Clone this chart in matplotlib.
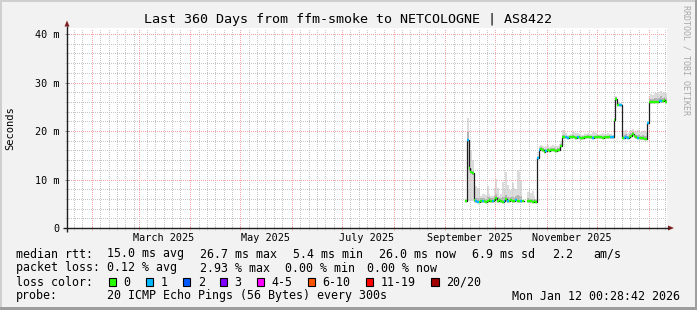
import numpy as np
import pandas as pd
import matplotlib
matplotlib.use('Agg')
import matplotlib.pyplot as plt
import matplotlib.dates as mdates
import matplotlib.transforms as mtransforms
from matplotlib.patches import Rectangle, Polygon

nan = np.nan

# graph window (last 360 days)
start = pd.Timestamp('2025-01-17 00:28:42')
end = pd.Timestamp('2026-01-12 00:28:42')
first_day = pd.Timestamp('2025-09-13 00:28:42')

# one value per day, Sep 13 2025 .. Jan 11 2026, milliseconds
median_ms = [5.5, 18.1, 12.3, 11.6, 11.3,
             5.7, 5.5, 5.4, 5.4, 5.6, 5.5, 5.6, 5.4, 5.5, 5.7,
             5.6, 5.5, 5.8, 6.1, 5.6, 5.7, 5.5, 5.4, 5.6, 5.9,
             5.6, 5.5, 5.7, 5.6, 5.5, 5.8, 5.6, 5.5, 5.6, 5.5,
             nan, nan,
             5.6, 5.5, 5.5, 5.4, 5.5, 5.4,
             14.4,
             16.1, 16.2, 16.0, 15.7, 15.9, 16.0, 15.8, 16.0, 16.1, 16.0, 15.9, 16.0, 16.1, 17.0,
             18.7, 18.8, 18.7, 18.6, 18.7, 18.7, 18.8, 18.7, 18.6, 18.7,
             18.7, 18.5, 18.6, 18.7, 18.7, 18.8, 18.7, 18.7, 18.6, 18.7,
             18.7, 18.8, 18.7, 18.7, 18.6, 18.7, 18.7, 18.7, 18.8, 18.7, 18.7,
             22.3, 26.7, 25.4, 25.4, 25.3,
             18.6, 18.6, 18.7, 18.6, 18.8, 19.0, 19.3, 18.9, 18.7, 18.6, 18.6, 18.5, 18.5, 18.4, 18.4,
             21.6, 25.9, 25.9, 26.0, 25.9, 26.0, 26.0, 26.1, 26.2, 26.1, 26.3, 26.0]

# highest ping of the 20 (light smoke)
smoke_hi = [5.9, 22.6, 15.8, 15.8, 14.0,
            8.5, 8.6, 8.3, 8.3, 6.7, 7.0, 7.0, 6.9, 8.6, 7.0,
            6.5, 6.7, 8.2, 10.2, 8.3, 6.7, 7.0, 9.5, 8.0, 11.6,
            8.9, 8.0, 7.9, 9.2, 8.2, 8.0, 11.9, 11.6, 9.9, 7.5,
            nan, nan,
            7.5, 7.7, 7.2, 7.7, 6.5, 5.9,
            14.8,
            16.9, 17.2, 17.0, 16.8, 16.9, 17.1, 16.8, 16.9, 17.2, 17.0, 16.9, 17.0, 17.3, 18.0,
            20.2, 20.2, 19.5, 19.2, 19.2, 19.4, 19.7, 19.7, 19.5, 19.5,
            19.4, 19.2, 19.2, 19.5, 19.3, 19.5, 19.2, 19.4, 19.7, 19.8,
            19.5, 19.2, 19.4, 19.4, 19.5, 19.3, 19.4, 19.5, 19.4, 19.3, 19.2,
            22.7, 27.2, 26.0, 25.9, 25.8,
            19.5, 19.9, 20.2, 19.6, 20.0, 20.3, 20.5, 20.1, 19.9, 20.2, 20.0, 19.8, 20.1, 20.2, 19.8,
            22.0, 27.3, 27.6, 27.5, 27.8, 27.9, 28.0, 27.7, 28.3, 27.9, 28.1, 27.8]

# upper quartile (darker smoke top)
smoke_q75 = [5.7, 19.8, 12.8, 12.2, 11.8,
             6.4, 6.2, 6.1, 6.0, 6.1, 6.1, 6.2, 6.0, 6.3, 6.3,
             6.1, 6.1, 6.6, 7.0, 6.3, 6.2, 6.1, 6.3, 6.3, 6.9,
             6.4, 6.2, 6.3, 6.4, 6.2, 6.5, 6.8, 6.6, 6.5, 6.1,
             nan, nan,
             6.1, 6.0, 6.0, 5.9, 5.9, 5.7,
             14.6,
             16.5, 16.6, 16.4, 16.2, 16.3, 16.5, 16.2, 16.4, 16.5, 16.4, 16.3, 16.4, 16.5, 17.4,
             19.2, 19.3, 19.0, 18.9, 19.0, 19.0, 19.1, 19.0, 18.9, 19.0,
             19.0, 18.8, 18.9, 19.0, 19.0, 19.1, 19.0, 19.0, 18.9, 19.0,
             19.0, 19.1, 19.0, 19.0, 18.9, 19.0, 19.0, 19.0, 19.1, 19.0, 19.0,
             22.5, 27.0, 25.7, 25.6, 25.5,
             19.0, 19.1, 19.3, 19.0, 19.3, 19.6, 19.8, 19.4, 19.2, 19.2, 19.1, 19.0, 19.1, 19.0, 18.9,
             21.8, 26.6, 26.7, 26.7, 26.8, 26.9, 26.9, 26.9, 27.2, 26.9, 27.1, 26.8]

# lower quartile (darker smoke bottom)
smoke_q25 = [5.4, 17.8, 11.9, 11.3, 11.0,
             5.4, 5.3, 5.2, 5.2, 5.4, 5.3, 5.4, 5.2, 5.3, 5.5,
             5.4, 5.3, 5.5, 5.8, 5.4, 5.5, 5.3, 5.2, 5.4, 5.6,
             5.4, 5.3, 5.5, 5.4, 5.3, 5.5, 5.4, 5.3, 5.4, 5.3,
             nan, nan,
             5.4, 5.3, 5.3, 5.2, 5.3, 5.2,
             14.2,
             15.9, 16.0, 15.8, 15.5, 15.7, 15.8, 15.6, 15.8, 15.9, 15.8, 15.7, 15.8, 15.9, 16.8,
             18.5, 18.6, 18.5, 18.4, 18.5, 18.5, 18.6, 18.5, 18.4, 18.5,
             18.5, 18.3, 18.4, 18.5, 18.5, 18.6, 18.5, 18.5, 18.4, 18.5,
             18.5, 18.6, 18.5, 18.5, 18.4, 18.5, 18.5, 18.5, 18.6, 18.5, 18.5,
             22.1, 26.4, 25.2, 25.2, 25.1,
             18.4, 18.4, 18.5, 18.4, 18.6, 18.8, 19.1, 18.7, 18.5, 18.4, 18.4, 18.3, 18.3, 18.2, 18.2,
             21.4, 25.7, 25.7, 25.8, 25.7, 25.8, 25.8, 25.9, 26.0, 25.9, 26.1, 25.8]

# lowest ping
smoke_lo = [5.3, 5.6, 5.6, 5.6, 5.6,
            5.2, 5.1, 5.1, 5.1, 5.2, 5.2, 5.2, 5.1, 5.2, 5.3,
            5.2, 5.2, 5.3, 5.5, 5.2, 5.3, 5.2, 5.1, 5.2, 5.4,
            5.2, 5.2, 5.3, 5.2, 5.2, 5.3, 5.2, 5.2, 5.2, 5.2,
            nan, nan,
            5.2, 5.2, 5.2, 5.1, 5.2, 5.1,
            14.0,
            15.8, 15.9, 15.7, 15.4, 15.6, 15.7, 15.5, 15.7, 15.8, 15.7, 15.6, 15.7, 15.8, 16.6,
            18.4, 18.5, 18.4, 18.3, 18.4, 18.4, 18.5, 18.4, 18.3, 18.4,
            18.4, 18.2, 18.3, 18.4, 18.4, 18.5, 18.4, 18.4, 18.3, 18.4,
            18.4, 18.5, 18.4, 18.4, 18.3, 18.4, 18.4, 18.4, 18.5, 18.4, 18.4,
            22.0, 26.2, 25.1, 25.1, 25.0,
            18.3, 18.3, 18.4, 18.3, 18.5, 18.6, 18.9, 18.6, 18.4, 18.3, 18.3, 18.2, 18.2, 18.1, 18.1,
            21.3, 25.6, 25.6, 25.7, 25.6, 25.7, 25.7, 25.8, 25.9, 25.8, 26.0, 25.7]

# lost pings out of 20
loss = [0, 1, 0, 0, 0,
        0, 1, 1, 0, 0, 1, 0, 0, 0, 0,
        0, 1, 0, 0, 0, 0, 0, 0, 1, 0,
        1, 0, 0, 0, 0, 1, 0, 0, 1, 0,
        0, 0,
        0, 0, 0, 0, 0, 0,
        1,
        1, 0, 0, 0, 1, 0, 0, 0, 0, 0, 0, 0, 0, 0,
        0, 0, 1, 1, 0, 0, 0, 0, 0, 1,
        0, 0, 0, 0, 0, 0, 0, 0, 1, 0,
        0, 0, 0, 0, 0, 0, 0, 0, 0, 1, 1,
        0, 0, 0, 1, 1,
        0, 1, 1, 1, 0, 0, 0, 0, 0, 1, 0, 0, 0, 0, 0,
        1, 0, 0, 0, 0, 0, 0, 1, 1, 0, 0, 0]

loss_labels = ['0', '1', '2', '3', '4-5', '6-10', '11-19', '20/20']
loss_colors = ['#26ff00', '#00b8ff', '#0059ff', '#7e00ff', '#ff00ff', '#ff5500', '#ff0000', '#a10000']
loss_upper = [0, 1, 2, 3, 5, 10, 19, 20]

month_labels = ['March 2025', 'May 2025', 'July 2025', 'September 2025', 'November 2025']
month_label_days = ['2025-03-16', '2025-05-16', '2025-07-16', '2025-09-16', '2025-11-16']

rtt_stats = ['15.0 ms avg', '26.7 ms max', '5.4 ms min', '26.0 ms now', '6.9 ms sd', '2.2', 'am/s']
loss_stats = ['0.12 % avg', '2.93 % max', '0.00 % min', '0.00 % now']

W, H = 697, 310
mono = 'DejaVu Sans Mono'
plt.rcParams['font.family'] = mono

fig = plt.figure(figsize=(W / 100, H / 100), dpi=100)
fig.patch.set_facecolor('#f2f2f2')

# plot area: x 67..667, y 28..228 (pixels)
ax = fig.add_axes([67 / W, 82 / H, 600 / W, 200 / H])
ax.set_facecolor('white')
for s in ax.spines.values():
    s.set_visible(False)

n = len(median_ms)
edges = pd.date_range(first_day, periods=n + 1, freq='D')
xs = mdates.date2num(edges.to_pydatetime())


def ext(v):
    a = np.array(v, dtype=float)
    return np.append(a, a[-1])


med = np.array(median_ms, dtype=float)
ax.fill_between(xs, ext(smoke_lo), ext(smoke_hi), step='post', color='#dcdcdc', lw=0, zorder=1)
ax.fill_between(xs, ext(smoke_q25), ext(smoke_q75), step='post', color='#b4b4b4', lw=0, zorder=1.1)
ax.step(xs, ext(median_ms), where='post', color='#1f1f1f', lw=0.9, zorder=3)

cols = []
for l in loss:
    idx = next(i for i, u in enumerate(loss_upper) if l <= u)
    cols.append(loss_colors[idx])
ax.hlines(med, xs[:-1], xs[1:], colors=cols, lw=1.7, zorder=4)

ax.set_xlim(mdates.date2num(start.to_pydatetime()), mdates.date2num(end.to_pydatetime()))
ax.set_ylim(0, 41.24)

# grid: month lines + every 5 days, 10 m + 2 m
majors = pd.date_range('2025-02-01', '2026-01-01', freq='MS')
minors = []
for m in pd.date_range('2025-01-01', '2026-01-01', freq='MS'):
    for d in (5, 10, 15, 20, 25):
        t = m + pd.Timedelta(days=d)
        if start <= t <= end:
            minors.append(t)
ax.set_xticks(mdates.date2num(majors.to_pydatetime()))
ax.set_xticks(mdates.date2num(pd.DatetimeIndex(minors).to_pydatetime()), minor=True)
ax.set_yticks([0, 10, 20, 30, 40])
ax.set_yticks(np.arange(2, 41, 2), minor=True)
ax.set_yticklabels(['0', '10 m', '20 m', '30 m', '40 m'])

mgrid = '#f2a6a6'
grid = '#c6c6c6'
ax.grid(which='major', color=mgrid, ls=(0, (1, 1.8)), lw=0.72, antialiased=False)
ax.grid(which='minor', color=grid, ls=(0, (1, 1.8)), lw=0.72, antialiased=False)
ax.tick_params(axis='x', which='both', labelbottom=False)
ax.tick_params(axis='x', which='major', direction='inout', length=3.5, width=0.72, color=mgrid)
ax.tick_params(axis='x', which='minor', direction='inout', length=2.5, width=0.72, color='#d4d4d4')
ax.tick_params(axis='y', which='major', direction='inout', length=3.5, width=0.72, color='#888888',
               labelsize=7.3, pad=4)
ax.tick_params(axis='y', which='minor', direction='inout', length=2.5, width=0.72, color='#d4d4d4')

trans = mtransforms.blended_transform_factory(ax.transData, ax.transAxes)
for name, day in zip(month_labels, month_label_days):
    ax.text(mdates.date2num(pd.Timestamp(day).to_pydatetime()), -0.05, name, transform=trans,
            ha='center', va='center', fontsize=7.3)

# overlay in pixel coordinates for frame, axes arrows and legend
deco = fig.add_axes([0, 0, 1, 1], zorder=5)
deco.set_xlim(0, W)
deco.set_ylim(H, 0)
deco.axis('off')

deco.add_patch(Rectangle((0, 0), 2, H, color='#cfcfcf', lw=0))
deco.add_patch(Rectangle((0, 0), W, 2, color='#cfcfcf', lw=0))
deco.add_patch(Rectangle((W - 2, 0), 2, H, color='#9e9e9e', lw=0))
deco.add_patch(Rectangle((0, H - 3), W, 3, color='#9e9e9e', lw=0))

deco.plot([63, 669], [228, 228], color='#1f1f1f', lw=1.0, solid_capstyle='butt')
deco.plot([67, 67], [232, 26], color='#1f1f1f', lw=1.0, solid_capstyle='butt')
deco.add_patch(Polygon([(668, 225.5), (674, 228), (668, 230.5)], closed=True, color='#801f1f', lw=0))
deco.add_patch(Polygon([(64.5, 26.5), (67, 20.5), (69.5, 26.5)], closed=True, color='#801f1f', lw=0))

deco.text(W / 2, 19, 'Last 360 Days from ffm-smoke to NETCOLOGNE | AS8422',
          ha='center', va='center', fontsize=9.6)
deco.text(10, 128, 'Seconds', rotation=90, ha='center', va='center', fontsize=7.5)
deco.text(686, 5, 'RRDTOOL / TOBI OETIKER', rotation=270, ha='center', va='top',
          fontsize=6, color='#a8a8a8')

fs = 8.4
row1, row2, row3, row4 = 254, 268, 282, 296
deco.text(16, row1, 'median rtt:', va='center', fontsize=fs)
for x, s in zip([107, 200, 293, 379, 472, 552, 593], rtt_stats):
    deco.text(x, row1, s, va='center', fontsize=fs)
deco.text(16, row2, 'packet loss:', va='center', fontsize=fs)
for x, s in zip([107, 200, 285, 367], loss_stats):
    deco.text(x, row2, s, va='center', fontsize=fs)
deco.text(16, row3, 'loss color:', va='center', fontsize=fs)
box_x = [108.5, 145.8, 182.8, 219.5, 256.8, 307.5, 365.8, 431]
for bx, lab, c in zip(box_x, loss_labels, loss_colors):
    deco.add_patch(Rectangle((bx, row3 - 4), 7.5, 7.5, facecolor=c, edgecolor='black', lw=0.8))
    deco.text(bx + 15, row3, lab, va='center', fontsize=fs)
deco.text(16, row4, 'probe:', va='center', fontsize=fs)
deco.text(107, row4, '20 ICMP Echo Pings (56 Bytes) every 300s', va='center', fontsize=fs)
deco.text(680, row4, 'Mon Jan 12 00:28:42 2026', ha='right', va='center', fontsize=fs)

fig.savefig('out.png', dpi=100, facecolor=fig.get_facecolor())
